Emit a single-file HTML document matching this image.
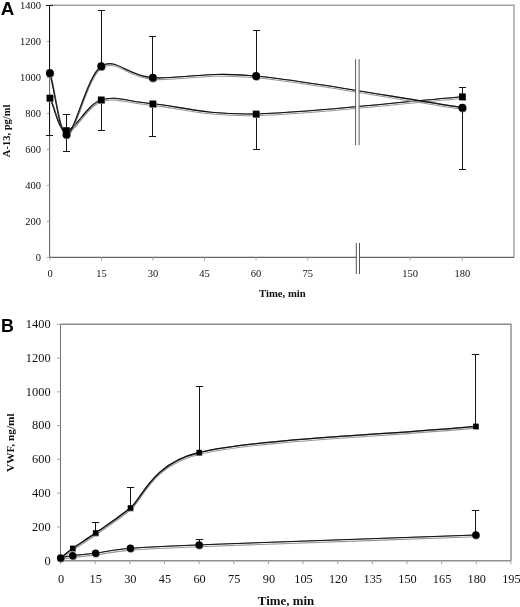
<!DOCTYPE html>
<html><head><meta charset="utf-8"><title>Figure</title>
<style>html,body{margin:0;padding:0;background:#fff}svg{display:block}.se{font-family:"Liberation Serif","Times New Roman",serif}.sa{font-family:"Liberation Sans",Arial,sans-serif}</style>
</head><body>
<svg width="520" height="607" viewBox="0 0 520 607">
<rect width="520" height="607" fill="#fff"/>
<path d="M49.6,5.3 H514 V257.4" fill="none" stroke="#a2a2a2" stroke-width="1.4"/>
<path d="M49.6,5.3 V257.4" fill="none" stroke="#5e5e5e" stroke-width="1.05"/>
<path d="M49.1,257.4 H514" fill="none" stroke="#666" stroke-width="1.1"/>
<line x1="50" y1="257.4" x2="50" y2="260.4" stroke="#a4a4a4" stroke-width="1"/>
<line x1="101.5" y1="257.4" x2="101.5" y2="260.4" stroke="#a4a4a4" stroke-width="1"/>
<line x1="153" y1="257.4" x2="153" y2="260.4" stroke="#a4a4a4" stroke-width="1"/>
<line x1="204.5" y1="257.4" x2="204.5" y2="260.4" stroke="#a4a4a4" stroke-width="1"/>
<line x1="256" y1="257.4" x2="256" y2="260.4" stroke="#a4a4a4" stroke-width="1"/>
<line x1="307.7" y1="257.4" x2="307.7" y2="260.4" stroke="#a4a4a4" stroke-width="1"/>
<line x1="410" y1="257.4" x2="410" y2="260.4" stroke="#a4a4a4" stroke-width="1"/>
<line x1="462.3" y1="257.4" x2="462.3" y2="260.4" stroke="#a4a4a4" stroke-width="1"/>
<line x1="46.6" y1="257.4" x2="49.6" y2="257.4" stroke="#a4a4a4" stroke-width="1"/>
<line x1="46.6" y1="221.39999999999998" x2="49.6" y2="221.39999999999998" stroke="#a4a4a4" stroke-width="1"/>
<line x1="46.6" y1="185.39999999999998" x2="49.6" y2="185.39999999999998" stroke="#a4a4a4" stroke-width="1"/>
<line x1="46.6" y1="149.39999999999998" x2="49.6" y2="149.39999999999998" stroke="#a4a4a4" stroke-width="1"/>
<line x1="46.6" y1="113.39999999999998" x2="49.6" y2="113.39999999999998" stroke="#a4a4a4" stroke-width="1"/>
<line x1="46.6" y1="77.39999999999998" x2="49.6" y2="77.39999999999998" stroke="#a4a4a4" stroke-width="1"/>
<line x1="46.6" y1="41.39999999999998" x2="49.6" y2="41.39999999999998" stroke="#a4a4a4" stroke-width="1"/>
<line x1="46.6" y1="5.399999999999977" x2="49.6" y2="5.399999999999977" stroke="#a4a4a4" stroke-width="1"/>
<text x="50" y="277" text-anchor="middle" class="se" font-size="10.5" fill="#111">0</text>
<text x="101.5" y="277" text-anchor="middle" class="se" font-size="10.5" fill="#111">15</text>
<text x="153" y="277" text-anchor="middle" class="se" font-size="10.5" fill="#111">30</text>
<text x="204.5" y="277" text-anchor="middle" class="se" font-size="10.5" fill="#111">45</text>
<text x="256" y="277" text-anchor="middle" class="se" font-size="10.5" fill="#111">60</text>
<text x="307.7" y="277" text-anchor="middle" class="se" font-size="10.5" fill="#111">75</text>
<text x="410" y="277" text-anchor="middle" class="se" font-size="10.5" fill="#111">150</text>
<text x="462.3" y="277" text-anchor="middle" class="se" font-size="10.5" fill="#111">180</text>
<text x="41.1" y="260.6" text-anchor="end" class="se" font-size="10.5" fill="#111">0</text>
<text x="41.1" y="224.6" text-anchor="end" class="se" font-size="10.5" fill="#111">200</text>
<text x="41.1" y="188.6" text-anchor="end" class="se" font-size="10.5" fill="#111">400</text>
<text x="41.1" y="152.6" text-anchor="end" class="se" font-size="10.5" fill="#111">600</text>
<text x="41.1" y="116.6" text-anchor="end" class="se" font-size="10.5" fill="#111">800</text>
<text x="41.1" y="80.6" text-anchor="end" class="se" font-size="10.5" fill="#111">1000</text>
<text x="41.1" y="44.6" text-anchor="end" class="se" font-size="10.5" fill="#111">1200</text>
<text x="41.1" y="8.6" text-anchor="end" class="se" font-size="10.5" fill="#111">1400</text>
<text x="282.4" y="297.4" text-anchor="middle" class="se" font-size="10.7" font-weight="bold" fill="#111">Time, min</text>
<text transform="translate(10.4,130.9) rotate(-90)" text-anchor="middle" class="se" font-size="10.5" font-weight="bold" fill="#111">A-13, pg/ml</text>
<text x="0.8" y="15.1" class="sa" font-size="18.8" font-weight="bold" fill="#000">A</text>
<line x1="49.5" y1="73" x2="49.5" y2="5.5" stroke="#161616" stroke-width="1"/>
<line x1="46.00" y1="5.5" x2="53.00" y2="5.5" stroke="#161616" stroke-width="1"/>
<line x1="49.5" y1="98" x2="49.5" y2="135.5" stroke="#161616" stroke-width="1"/>
<line x1="46.00" y1="135.5" x2="53.00" y2="135.5" stroke="#161616" stroke-width="1"/>
<line x1="66.5" y1="134.5" x2="66.5" y2="114.5" stroke="#161616" stroke-width="1"/>
<line x1="63.00" y1="114.5" x2="70.00" y2="114.5" stroke="#161616" stroke-width="1"/>
<line x1="66.5" y1="130.5" x2="66.5" y2="151.5" stroke="#161616" stroke-width="1"/>
<line x1="63.00" y1="151.5" x2="70.00" y2="151.5" stroke="#161616" stroke-width="1"/>
<line x1="101.5" y1="66.2" x2="101.5" y2="10.5" stroke="#161616" stroke-width="1"/>
<line x1="98.00" y1="10.5" x2="105.00" y2="10.5" stroke="#161616" stroke-width="1"/>
<line x1="101.5" y1="99.8" x2="101.5" y2="130.5" stroke="#161616" stroke-width="1"/>
<line x1="98.00" y1="130.5" x2="105.00" y2="130.5" stroke="#161616" stroke-width="1"/>
<line x1="152.5" y1="77.7" x2="152.5" y2="36.5" stroke="#161616" stroke-width="1"/>
<line x1="149.00" y1="36.5" x2="156.00" y2="36.5" stroke="#161616" stroke-width="1"/>
<line x1="152.5" y1="103.8" x2="152.5" y2="136.5" stroke="#161616" stroke-width="1"/>
<line x1="149.00" y1="136.5" x2="156.00" y2="136.5" stroke="#161616" stroke-width="1"/>
<line x1="256.5" y1="76" x2="256.5" y2="30.5" stroke="#161616" stroke-width="1"/>
<line x1="253.00" y1="30.5" x2="260.00" y2="30.5" stroke="#161616" stroke-width="1"/>
<line x1="256.5" y1="113.9" x2="256.5" y2="149.5" stroke="#161616" stroke-width="1"/>
<line x1="253.00" y1="149.5" x2="260.00" y2="149.5" stroke="#161616" stroke-width="1"/>
<line x1="462.5" y1="96.7" x2="462.5" y2="87.5" stroke="#161616" stroke-width="1"/>
<line x1="459.00" y1="87.5" x2="466.00" y2="87.5" stroke="#161616" stroke-width="1"/>
<line x1="462.5" y1="107.7" x2="462.5" y2="169.5" stroke="#161616" stroke-width="1"/>
<line x1="459.00" y1="169.5" x2="466.00" y2="169.5" stroke="#161616" stroke-width="1"/>
<path d="M49.80,98.00 C55.33,108.83 57.83,130.20 66.40,130.50 C74.97,130.80 86.80,104.25 101.20,99.80 C115.57,95.36 127.03,101.45 152.80,103.80 C178.62,106.15 204.52,115.08 256.10,113.90 C307.68,112.72 393.57,102.43 462.30,96.70" transform="translate(0.5,1.8)" fill="none" stroke="#989898" stroke-width="1.1"/>
<path d="M49.80,98.00 C55.33,108.83 57.83,130.20 66.40,130.50 C74.97,130.80 86.80,104.25 101.20,99.80 C115.57,95.36 127.03,101.45 152.80,103.80 C178.62,106.15 204.52,115.08 256.10,113.90 C307.68,112.72 393.57,102.43 462.30,96.70" transform="translate(0.6,0)" fill="none" stroke="#151515" stroke-opacity="0.55" stroke-width="1.1"/>
<path d="M49.80,98.00 C55.33,108.83 57.83,130.20 66.40,130.50 C74.97,130.80 86.80,104.25 101.20,99.80 C115.57,95.36 127.03,101.45 152.80,103.80 C178.62,106.15 204.52,115.08 256.10,113.90 C307.68,112.72 393.57,102.43 462.30,96.70" fill="none" stroke="#121212" stroke-width="1.1"/>
<path d="M49.80,73.00 C55.33,93.50 59.72,135.38 66.40,134.50 C74.97,133.37 86.80,75.67 101.20,66.20 C115.60,56.73 126.98,76.07 152.80,77.70 C178.53,79.33 204.68,71.02 256.10,76.00 C307.68,81.00 393.57,97.13 462.30,107.70" transform="translate(0.5,1.8)" fill="none" stroke="#989898" stroke-width="1.1"/>
<path d="M49.80,73.00 C55.33,93.50 59.72,135.38 66.40,134.50 C74.97,133.37 86.80,75.67 101.20,66.20 C115.60,56.73 126.98,76.07 152.80,77.70 C178.53,79.33 204.68,71.02 256.10,76.00 C307.68,81.00 393.57,97.13 462.30,107.70" transform="translate(0.6,0)" fill="none" stroke="#151515" stroke-opacity="0.55" stroke-width="1.1"/>
<path d="M49.80,73.00 C55.33,93.50 59.72,135.38 66.40,134.50 C74.97,133.37 86.80,75.67 101.20,66.20 C115.60,56.73 126.98,76.07 152.80,77.70 C178.53,79.33 204.68,71.02 256.10,76.00 C307.68,81.00 393.57,97.13 462.30,107.70" fill="none" stroke="#121212" stroke-width="1.1"/>
<rect x="356" y="59.2" width="3.4" height="86" fill="#fff"/>
<path d="M355.6,59.2 V145.2 M359.1,59.2 V145.2" stroke="#5a5a5a" stroke-width="1" fill="none"/>
<rect x="356.4" y="243" width="3" height="31" fill="#fff"/>
<path d="M356.3,243 V274 M359.5,243 V274" stroke="#555" stroke-width="1" fill="none"/>
<rect x="47.0" y="95.5" width="6.6" height="6.6" fill="#777"/>
<rect x="46.5" y="94.7" width="6.6" height="6.6" fill="#000"/>
<rect x="63.60000000000001" y="128.0" width="6.6" height="6.6" fill="#777"/>
<rect x="63.10000000000001" y="127.2" width="6.6" height="6.6" fill="#000"/>
<rect x="98.4" y="97.3" width="6.6" height="6.6" fill="#777"/>
<rect x="97.9" y="96.5" width="6.6" height="6.6" fill="#000"/>
<rect x="150.0" y="101.3" width="6.6" height="6.6" fill="#777"/>
<rect x="149.5" y="100.5" width="6.6" height="6.6" fill="#000"/>
<rect x="253.3" y="111.4" width="6.6" height="6.6" fill="#777"/>
<rect x="252.8" y="110.60000000000001" width="6.6" height="6.6" fill="#000"/>
<rect x="459.5" y="94.2" width="6.6" height="6.6" fill="#777"/>
<rect x="459.0" y="93.4" width="6.6" height="6.6" fill="#000"/>
<circle cx="50.3" cy="73.8" r="3.9" fill="#777"/>
<circle cx="49.8" cy="73" r="3.9" fill="#000"/>
<circle cx="66.9" cy="135.3" r="3.9" fill="#777"/>
<circle cx="66.4" cy="134.5" r="3.9" fill="#000"/>
<circle cx="101.7" cy="67.0" r="3.9" fill="#777"/>
<circle cx="101.2" cy="66.2" r="3.9" fill="#000"/>
<circle cx="153.3" cy="78.5" r="3.9" fill="#777"/>
<circle cx="152.8" cy="77.7" r="3.9" fill="#000"/>
<circle cx="256.6" cy="76.8" r="3.9" fill="#777"/>
<circle cx="256.1" cy="76" r="3.9" fill="#000"/>
<circle cx="462.8" cy="108.5" r="3.9" fill="#777"/>
<circle cx="462.3" cy="107.7" r="3.9" fill="#000"/>
<path d="M60.5,324.3 H511 V560.7" fill="none" stroke="#8a8a8a" stroke-width="1.4"/>
<path d="M60.5,324.3 V560.7" fill="none" stroke="#707070" stroke-width="1.05"/>
<path d="M60.0,560.7 H511" fill="none" stroke="#909090" stroke-width="1.5"/>
<line x1="60.5" y1="560.7" x2="60.5" y2="564.2" stroke="#a4a4a4" stroke-width="1"/>
<line x1="95.15" y1="560.7" x2="95.15" y2="564.2" stroke="#a4a4a4" stroke-width="1"/>
<line x1="129.8" y1="560.7" x2="129.8" y2="564.2" stroke="#a4a4a4" stroke-width="1"/>
<line x1="164.45" y1="560.7" x2="164.45" y2="564.2" stroke="#a4a4a4" stroke-width="1"/>
<line x1="199.1" y1="560.7" x2="199.1" y2="564.2" stroke="#a4a4a4" stroke-width="1"/>
<line x1="233.75" y1="560.7" x2="233.75" y2="564.2" stroke="#a4a4a4" stroke-width="1"/>
<line x1="268.4" y1="560.7" x2="268.4" y2="564.2" stroke="#a4a4a4" stroke-width="1"/>
<line x1="303.04999999999995" y1="560.7" x2="303.04999999999995" y2="564.2" stroke="#a4a4a4" stroke-width="1"/>
<line x1="337.7" y1="560.7" x2="337.7" y2="564.2" stroke="#a4a4a4" stroke-width="1"/>
<line x1="372.34999999999997" y1="560.7" x2="372.34999999999997" y2="564.2" stroke="#a4a4a4" stroke-width="1"/>
<line x1="407.0" y1="560.7" x2="407.0" y2="564.2" stroke="#a4a4a4" stroke-width="1"/>
<line x1="441.65" y1="560.7" x2="441.65" y2="564.2" stroke="#a4a4a4" stroke-width="1"/>
<line x1="476.29999999999995" y1="560.7" x2="476.29999999999995" y2="564.2" stroke="#a4a4a4" stroke-width="1"/>
<line x1="510.95" y1="560.7" x2="510.95" y2="564.2" stroke="#a4a4a4" stroke-width="1"/>
<line x1="57.0" y1="560.7" x2="60.5" y2="560.7" stroke="#a4a4a4" stroke-width="1"/>
<line x1="57.0" y1="526.9300000000001" x2="60.5" y2="526.9300000000001" stroke="#a4a4a4" stroke-width="1"/>
<line x1="57.0" y1="493.16" x2="60.5" y2="493.16" stroke="#a4a4a4" stroke-width="1"/>
<line x1="57.0" y1="459.39000000000004" x2="60.5" y2="459.39000000000004" stroke="#a4a4a4" stroke-width="1"/>
<line x1="57.0" y1="425.62" x2="60.5" y2="425.62" stroke="#a4a4a4" stroke-width="1"/>
<line x1="57.0" y1="391.85" x2="60.5" y2="391.85" stroke="#a4a4a4" stroke-width="1"/>
<line x1="57.0" y1="358.08000000000004" x2="60.5" y2="358.08000000000004" stroke="#a4a4a4" stroke-width="1"/>
<line x1="57.0" y1="324.31000000000006" x2="60.5" y2="324.31000000000006" stroke="#a4a4a4" stroke-width="1"/>
<text x="61.0" y="582.5" text-anchor="middle" class="se" font-size="12.3" fill="#111">0</text>
<text x="95.7" y="582.5" text-anchor="middle" class="se" font-size="12.3" fill="#111">15</text>
<text x="130.3" y="582.5" text-anchor="middle" class="se" font-size="12.3" fill="#111">30</text>
<text x="164.9" y="582.5" text-anchor="middle" class="se" font-size="12.3" fill="#111">45</text>
<text x="199.6" y="582.5" text-anchor="middle" class="se" font-size="12.3" fill="#111">60</text>
<text x="234.2" y="582.5" text-anchor="middle" class="se" font-size="12.3" fill="#111">75</text>
<text x="268.9" y="582.5" text-anchor="middle" class="se" font-size="12.3" fill="#111">90</text>
<text x="303.5" y="582.5" text-anchor="middle" class="se" font-size="12.3" fill="#111">105</text>
<text x="338.2" y="582.5" text-anchor="middle" class="se" font-size="12.3" fill="#111">120</text>
<text x="372.8" y="582.5" text-anchor="middle" class="se" font-size="12.3" fill="#111">135</text>
<text x="407.5" y="582.5" text-anchor="middle" class="se" font-size="12.3" fill="#111">150</text>
<text x="442.1" y="582.5" text-anchor="middle" class="se" font-size="12.3" fill="#111">165</text>
<text x="476.8" y="582.5" text-anchor="middle" class="se" font-size="12.3" fill="#111">180</text>
<text x="511.4" y="582.5" text-anchor="middle" class="se" font-size="12.3" fill="#111">195</text>
<text x="50.6" y="564.5" text-anchor="end" class="se" font-size="12.4" fill="#111">0</text>
<text x="50.6" y="530.7" text-anchor="end" class="se" font-size="12.4" fill="#111">200</text>
<text x="50.6" y="497.0" text-anchor="end" class="se" font-size="12.4" fill="#111">400</text>
<text x="50.6" y="463.2" text-anchor="end" class="se" font-size="12.4" fill="#111">600</text>
<text x="50.6" y="429.4" text-anchor="end" class="se" font-size="12.4" fill="#111">800</text>
<text x="50.6" y="395.7" text-anchor="end" class="se" font-size="12.4" fill="#111">1000</text>
<text x="50.6" y="361.9" text-anchor="end" class="se" font-size="12.4" fill="#111">1200</text>
<text x="50.6" y="328.1" text-anchor="end" class="se" font-size="12.4" fill="#111">1400</text>
<text x="286" y="605.1" text-anchor="middle" class="se" font-size="12.9" font-weight="bold" fill="#111">Time, min</text>
<text transform="translate(14.1,442.7) rotate(-90)" text-anchor="middle" class="se" font-size="11.3" font-weight="bold" fill="#111">VWF, ng/ml</text>
<text x="1" y="332.3" class="sa" font-size="17.8" font-weight="bold" fill="#000">B</text>
<line x1="95.5" y1="532.9" x2="95.5" y2="522.5" stroke="#161616" stroke-width="1"/>
<line x1="91.80" y1="522.5" x2="99.20" y2="522.5" stroke="#161616" stroke-width="1"/>
<line x1="130.5" y1="507.9" x2="130.5" y2="487.5" stroke="#161616" stroke-width="1"/>
<line x1="126.80" y1="487.5" x2="134.20" y2="487.5" stroke="#161616" stroke-width="1"/>
<line x1="199.5" y1="452.5" x2="199.5" y2="386.5" stroke="#161616" stroke-width="1"/>
<line x1="195.80" y1="386.5" x2="203.20" y2="386.5" stroke="#161616" stroke-width="1"/>
<line x1="475.5" y1="426.3" x2="475.5" y2="354.5" stroke="#161616" stroke-width="1"/>
<line x1="471.80" y1="354.5" x2="479.20" y2="354.5" stroke="#161616" stroke-width="1"/>
<line x1="199.5" y1="544.9" x2="199.5" y2="539.5" stroke="#161616" stroke-width="1"/>
<line x1="195.80" y1="539.5" x2="203.20" y2="539.5" stroke="#161616" stroke-width="1"/>
<line x1="475.5" y1="535" x2="475.5" y2="510.5" stroke="#161616" stroke-width="1"/>
<line x1="471.80" y1="510.5" x2="479.20" y2="510.5" stroke="#161616" stroke-width="1"/>
<path d="M60.60,557.90 C64.63,554.70 66.87,552.47 72.70,548.30 C78.53,544.13 85.98,539.63 95.60,532.90 C105.03,526.30 113.48,521.04 130.40,507.90 C141.78,499.06 150.74,463.92 199.10,452.50 C256.67,438.90 383.57,435.03 475.80,426.30" transform="translate(0.5,1.8)" fill="none" stroke="#989898" stroke-width="1.1"/>
<path d="M60.60,557.90 C64.63,554.70 66.87,552.47 72.70,548.30 C78.53,544.13 85.98,539.63 95.60,532.90 C105.03,526.30 113.48,521.04 130.40,507.90 C141.78,499.06 150.74,463.92 199.10,452.50 C256.67,438.90 383.57,435.03 475.80,426.30" transform="translate(0.6,0)" fill="none" stroke="#151515" stroke-opacity="0.55" stroke-width="1.3"/>
<path d="M60.60,557.90 C64.63,554.70 66.87,552.47 72.70,548.30 C78.53,544.13 85.98,539.63 95.60,532.90 C105.03,526.30 113.48,521.04 130.40,507.90 C141.78,499.06 150.74,463.92 199.10,452.50 C256.67,438.90 383.57,435.03 475.80,426.30" fill="none" stroke="#121212" stroke-width="1.3"/>
<path d="M60.60,557.90 C64.63,557.13 66.87,556.40 72.70,555.60 C78.53,554.80 85.98,554.32 95.60,553.10 C105.22,551.88 113.15,549.67 130.40,548.30 C140.70,547.48 164.73,546.22 199.10,544.90 C256.67,542.68 383.57,538.30 475.80,535.00" transform="translate(0.5,1.8)" fill="none" stroke="#989898" stroke-width="1.1"/>
<path d="M60.60,557.90 C64.63,557.13 66.87,556.40 72.70,555.60 C78.53,554.80 85.98,554.32 95.60,553.10 C105.22,551.88 113.15,549.67 130.40,548.30 C140.70,547.48 164.73,546.22 199.10,544.90 C256.67,542.68 383.57,538.30 475.80,535.00" transform="translate(0.6,0)" fill="none" stroke="#151515" stroke-opacity="0.55" stroke-width="1.0"/>
<path d="M60.60,557.90 C64.63,557.13 66.87,556.40 72.70,555.60 C78.53,554.80 85.98,554.32 95.60,553.10 C105.22,551.88 113.15,549.67 130.40,548.30 C140.70,547.48 164.73,546.22 199.10,544.90 C256.67,542.68 383.57,538.30 475.80,535.00" fill="none" stroke="#121212" stroke-width="1.0"/>
<rect x="58.4" y="555.9999999999999" width="5.4" height="5.4" fill="#777"/>
<rect x="57.9" y="555.1999999999999" width="5.4" height="5.4" fill="#000"/>
<rect x="70.5" y="546.3999999999999" width="5.4" height="5.4" fill="#777"/>
<rect x="70.0" y="545.5999999999999" width="5.4" height="5.4" fill="#000"/>
<rect x="93.39999999999999" y="530.9999999999999" width="5.4" height="5.4" fill="#777"/>
<rect x="92.89999999999999" y="530.1999999999999" width="5.4" height="5.4" fill="#000"/>
<rect x="128.2" y="506.0" width="5.4" height="5.4" fill="#777"/>
<rect x="127.7" y="505.2" width="5.4" height="5.4" fill="#000"/>
<rect x="196.9" y="450.6" width="5.4" height="5.4" fill="#777"/>
<rect x="196.4" y="449.8" width="5.4" height="5.4" fill="#000"/>
<rect x="473.6" y="424.40000000000003" width="5.4" height="5.4" fill="#777"/>
<rect x="473.1" y="423.6" width="5.4" height="5.4" fill="#000"/>
<circle cx="61.1" cy="558.6999999999999" r="3.7" fill="#777"/>
<circle cx="60.6" cy="557.9" r="3.7" fill="#000"/>
<circle cx="73.2" cy="556.4" r="3.7" fill="#777"/>
<circle cx="72.7" cy="555.6" r="3.7" fill="#000"/>
<circle cx="96.1" cy="553.9" r="3.7" fill="#777"/>
<circle cx="95.6" cy="553.1" r="3.7" fill="#000"/>
<circle cx="130.9" cy="549.0999999999999" r="3.7" fill="#777"/>
<circle cx="130.4" cy="548.3" r="3.7" fill="#000"/>
<circle cx="199.6" cy="545.6999999999999" r="3.7" fill="#777"/>
<circle cx="199.1" cy="544.9" r="3.7" fill="#000"/>
<circle cx="476.3" cy="535.8" r="3.7" fill="#777"/>
<circle cx="475.8" cy="535" r="3.7" fill="#000"/>
</svg>
</body></html>
